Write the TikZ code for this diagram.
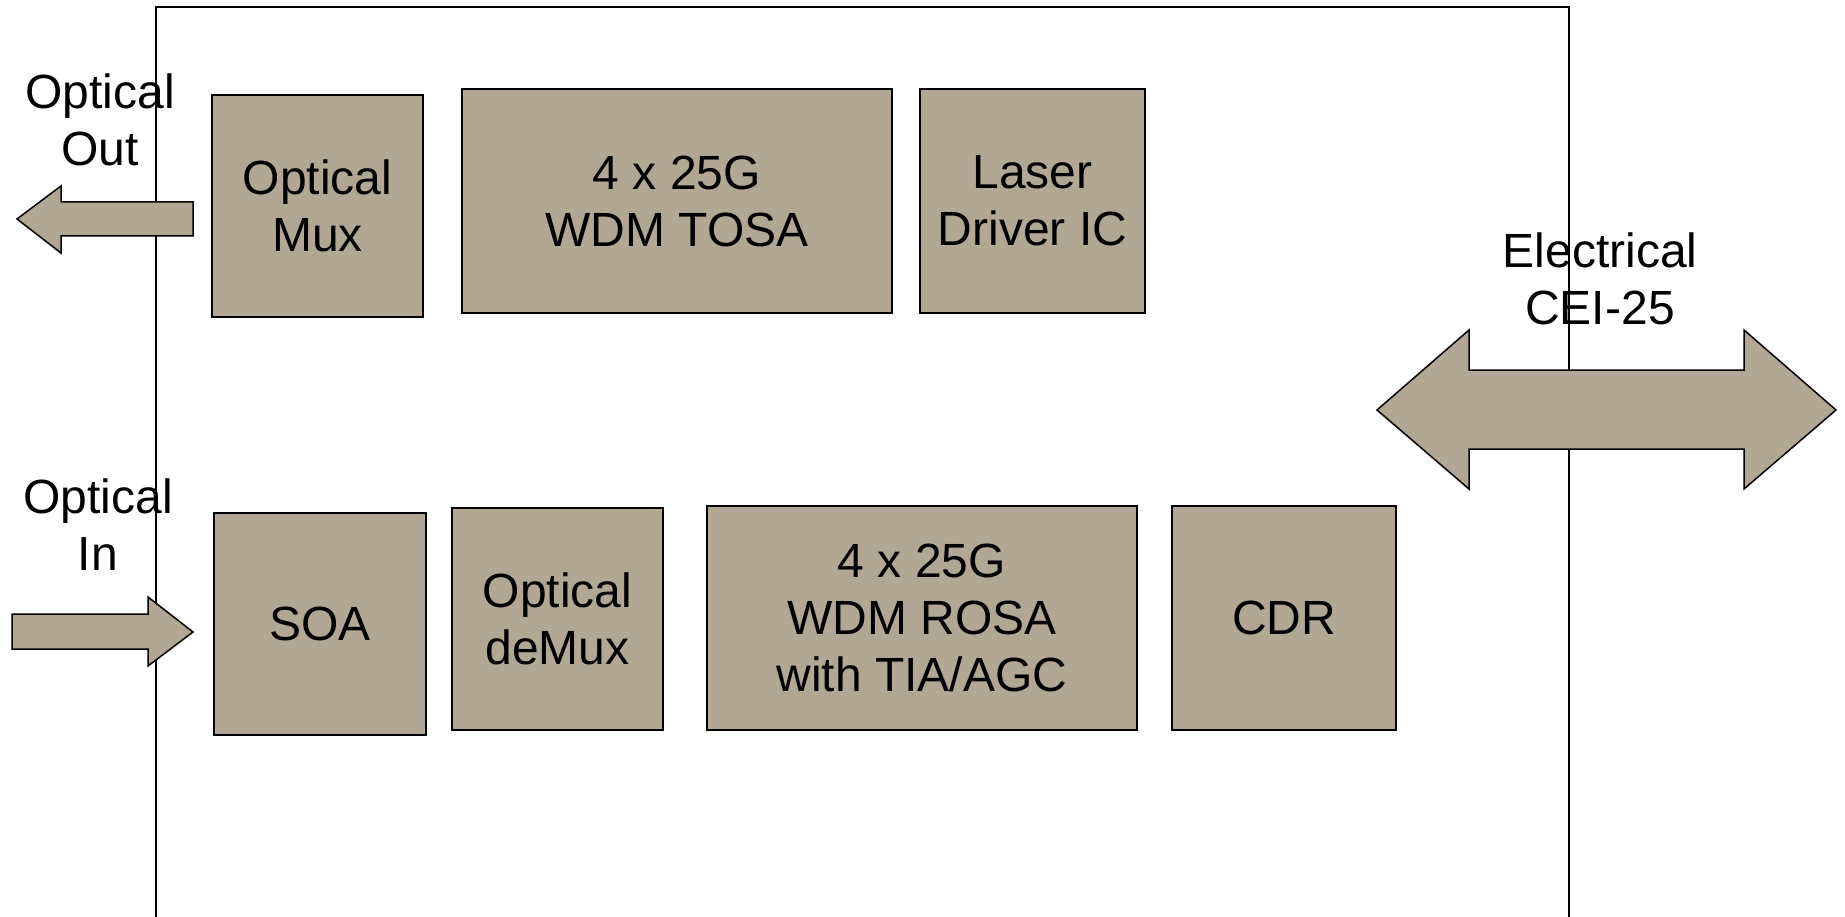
\documentclass[tikz,border=0pt]{standalone}
\usepackage{fontspec}
\setmainfont{Liberation Sans}
\definecolor{blockfill}{RGB}{178,167,148}
\begin{document}
\begin{tikzpicture}[x=1pt,y=-1pt,
  blk/.style={draw=black,line width=1.5pt,fill=blockfill,rectangle,inner sep=0pt,align=center,
    font=\fontsize{48}{57}\selectfont},
  lbl/.style={inner sep=0pt,align=center,font=\fontsize{48}{57}\selectfont},
  bigarrow/.style={draw=black,line width=1.5pt,fill=blockfill,line join=miter}]
\useasboundingbox (0,0) rectangle (1845,917);
\fill[white] (0,0) rectangle (1845,917);
% module frame
\draw[line width=1.8pt] (156,930) -- (156,7) -- (1569,7) -- (1569,930);
% labels
\node[lbl] (outlbl) at (100,120) {Optical\\Out};
\node[lbl] (inlbl) at (98,525) {Optical\\In};
\node[lbl] (ellbl) at (1600,279) {Electrical\\CEI-25};
% arrows
\draw[bigarrow] (193,202) -- (61,202) -- (61,186) -- (17,219) -- (61,253) -- (61,236) -- (193,236) -- cycle;
\draw[bigarrow] (12,614) -- (148,614) -- (148,597) -- (193,632) -- (148,666) -- (148,649) -- (12,649) -- cycle;
\draw[bigarrow] (1377,410) -- (1469,330) -- (1469,370) -- (1744,370) -- (1744,330) -- (1836,410)
  -- (1744,489) -- (1744,449) -- (1469,449) -- (1469,489) -- cycle;
% blocks
\node[blk,minimum width=211,minimum height=222] (mux) at (317.5,206) {Optical\\Mux};
\node[blk,minimum width=430,minimum height=224] (tosa) at (677,201) {4 x 25G\\WDM TOSA};
\node[blk,minimum width=225,minimum height=224] (ldic) at (1032.5,201) {Laser\\Driver IC};
\node[blk,minimum width=212,minimum height=222] (soa) at (320,624) {SOA};
\node[blk,minimum width=211,minimum height=222] (demux) at (557.5,619) {Optical\\deMux};
\node[blk,minimum width=430,minimum height=224] (rosa) at (922,618) {4 x 25G\\WDM ROSA\\with TIA/AGC};
\node[blk,minimum width=224,minimum height=224] (cdr) at (1284,618) {CDR};
\end{tikzpicture}
\end{document}
